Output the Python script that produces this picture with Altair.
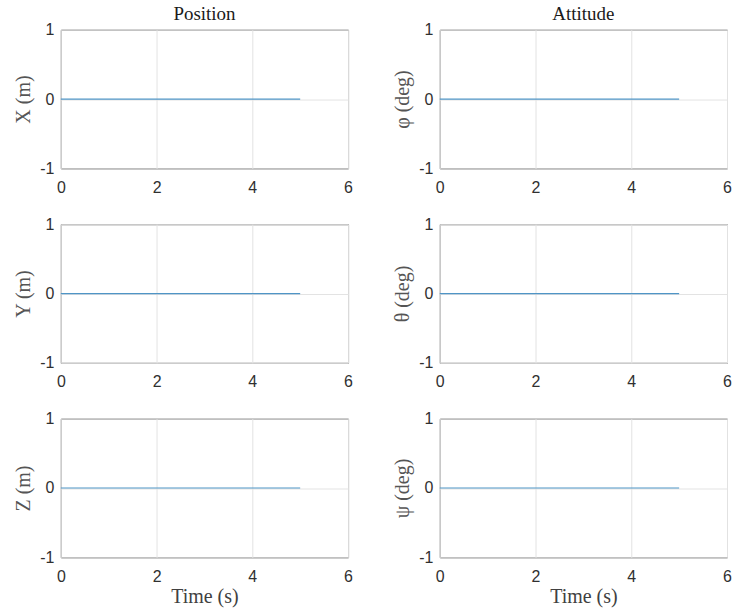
import altair as alt
import pandas as pd

# ---- data ----
time_s = [0, 1, 2, 3, 4, 5]
pos_x = [0, 0, 0, 0, 0, 0]
pos_y = [0, 0, 0, 0, 0, 0]
pos_z = [0, 0, 0, 0, 0, 0]
att_phi = [0, 0, 0, 0, 0, 0]
att_theta = [0, 0, 0, 0, 0, 0]
att_psi = [0, 0, 0, 0, 0, 0]

x_ticks = [0, 2, 4, 6]
y_ticks = [-1, 0, 1]

panels = [
    ("X (m)", pos_x, "Position", False),
    ("φ (deg)", att_phi, "Attitude", False),
    ("Y (m)", pos_y, None, False),
    ("θ (deg)", att_theta, None, False),
    ("Z (m)", pos_z, None, True),
    ("ψ (deg)", att_psi, None, True),
]

SERIF = "Liberation Serif"
SANS = "Liberation Sans"
GRID = "#e3e3e3"
LABEL = "#303030"

charts = []
for ylab, vals, ttl, bottom in panels:
    df = pd.DataFrame({"t": time_s, "v": vals})
    x_axis = alt.Axis(
        values=x_ticks, grid=True, gridColor=GRID, ticks=False, domain=False,
        labelFont=SANS, labelFontSize=16, labelColor=LABEL, labelPadding=11,
        labelFlush=False, labelOverlap=False, labelExpr="'' + datum.value",
        title="Time (s)" if bottom else None,
        titleFont=SERIF, titleFontSize=20, titleFontWeight="normal",
        titleColor="#404040", titlePadding=2,
    )
    y_axis = alt.Axis(
        values=y_ticks, grid=True, gridColor=GRID, ticks=False, domain=False,
        labelFont=SANS, labelFontSize=16, labelColor=LABEL, labelPadding=7,
        labelFlush=False, labelOverlap=False, labelExpr="'' + datum.value",
        title=ylab, titleFont=SERIF, titleFontSize=20, titleFontWeight="normal",
        titleColor="#555555", titlePadding=6,
    )
    c = alt.Chart(df).mark_line(color="#4f95c6", strokeWidth=1.2).encode(
        x=alt.X("t:Q", scale=alt.Scale(domain=[0, 6], nice=False, zero=False), axis=x_axis),
        y=alt.Y("v:Q", scale=alt.Scale(domain=[-1, 1], nice=False), axis=y_axis),
    )
    props = dict(width=288, height=139)
    if ttl:
        props["title"] = alt.TitleParams(
            ttl, font=SERIF, fontSize=19, fontWeight="normal", color="#1a1a1a",
            anchor="middle", offset=-2,
        )
    charts.append(c.properties(**props))

chart = alt.concat(
    *charts, columns=2, spacing={"row": 56, "column": 92}, bounds="flush"
).properties(
    padding={"left": 13, "top": 3, "right": 0, "bottom": 0},
    background="white",
).configure_view(
    stroke="#3a3a3a", strokeWidth=1
)

chart.save("out.html", embed_options={"renderer": "svg", "actions": False})
